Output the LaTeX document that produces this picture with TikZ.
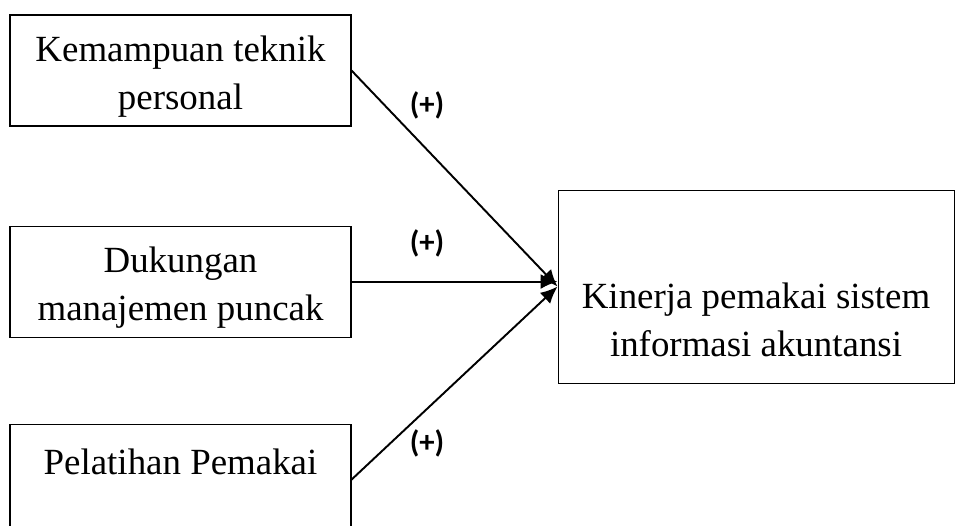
\documentclass[tikz,border=0pt]{standalone}
\usepackage{fontspec}
\setmainfont{Liberation Serif}
\newfontfamily\plusfont{Carlito}
\usepackage{tikz}
\usetikzlibrary{positioning,arrows.meta}
\tikzset{var node/.style={rectangle,draw,line width=0.6pt,minimum width=6.82cm,minimum height=2.22cm,inner sep=0pt},
         var text/.style={align=center,inner sep=0pt,yshift=-0.12cm,font=\fontsize{21}{27.3}\selectfont},
         sign node/.style={font=\plusfont\bfseries\fontsize{17.5}{20}\selectfont,inner sep=0pt},
         link/.style={line width=1.1pt,-{Latex[length=3.4mm,width=3mm]}}
            }

\begin{document}
\begin{tikzpicture}
    \clip (0,0) rectangle (19.1,-10.5);

    \node[var node] (kemampuan) at (3.61,-1.41) {};
    \node[var node] (dukungan) [below = 1.98cm of kemampuan] {};
    \node[var node] (pelatihan) [below = 1.72cm of dukungan] {};
    \node[var node,minimum width=7.92cm,minimum height=3.86cm] (kinerja) [right = 4.12cm of dukungan,yshift=-0.1cm] {};

    \node[var text] (kemampuan text) at (kemampuan) {Kemampuan teknik\\personal};
    \node[var text] (dukungan text) at (dukungan) {Dukungan\\manajemen puncak};
    \node[var text] (pelatihan text) at (pelatihan) {Pelatihan Pemakai\\\mbox{}};
    \node[var text,yshift=-0.54cm] (kinerja text) at (kinerja) {Kinerja pemakai sistem\\informasi akuntansi};

    \draw[link] (kemampuan.east) -- (kinerja.west);
    \draw[link] (dukungan.east) -- (dukungan.east -| kinerja.west);
    \draw[link] (pelatihan.east) -- (kinerja.west);

    \node[sign node] (s1) at (8.54,-2.1) {(+)};
    \node[sign node] (s2) at (8.54,-4.86) {(+)};
    \node[sign node] (s3) at (8.54,-8.86) {(+)};
\end{tikzpicture}
\end{document}
